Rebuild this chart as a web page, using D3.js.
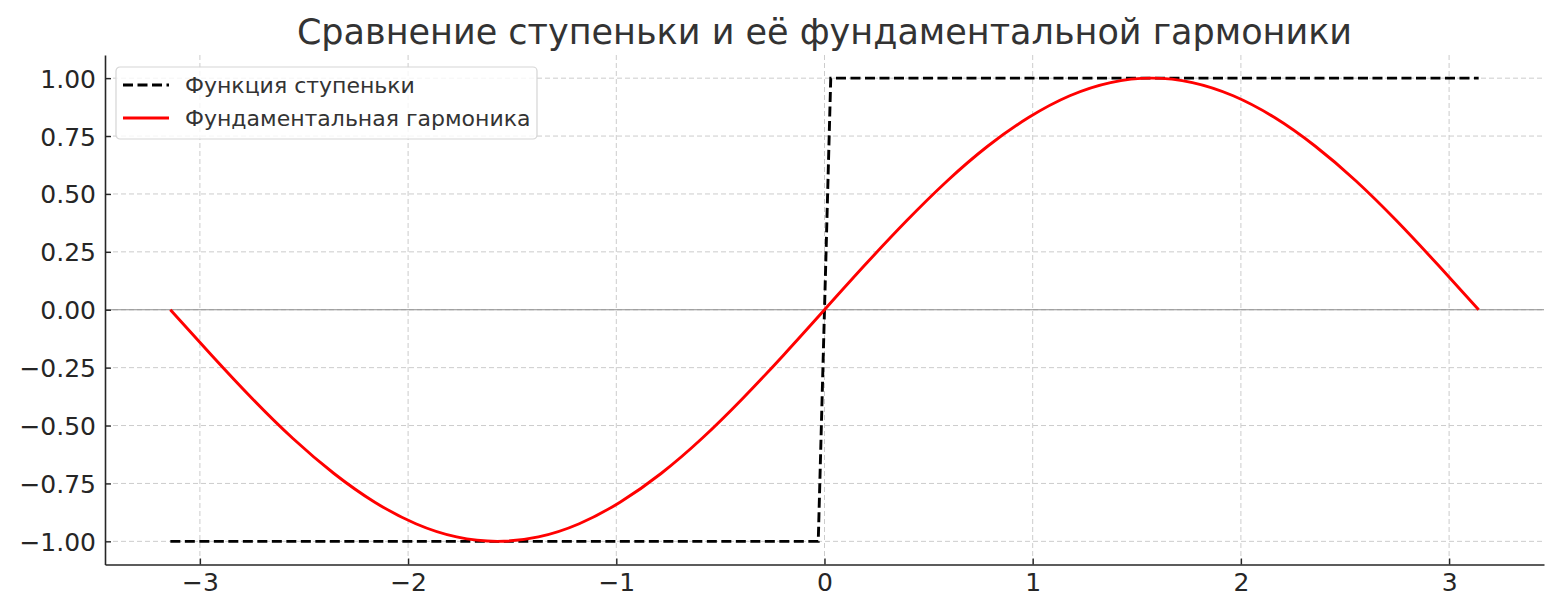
<!DOCTYPE html>
<html>
<head>
<meta charset="utf-8">
<script src="https://cdn.jsdelivr.net/npm/d3@7"></script>
<style>
  body { margin: 0; background: #fff; }
  svg { font-family: "DejaVu Sans", sans-serif; }
</style>
</head>
<body>
<svg id="chart" width="1560" height="614"></svg>
<script>
const title = "Сравнение ступеньки и её фундаментальной гармоники";
const seriesNames = ["Функция ступеньки", "Фундаментальная гармоника"];

// step function
const stepX = [-3.142, -0.03, 0.03, 3.142];
const stepY = [-1, -1, 1, 1];

// fundamental harmonic, sampled off the curve
const harmX = [-3.142, -2.945, -2.749, -2.553, -2.356, -2.160, -1.963, -1.767, -1.571, -1.374, -1.178, -0.982, -0.785, -0.589, -0.393, -0.196,
  0, 0.196, 0.393, 0.589, 0.785, 0.982, 1.178, 1.374, 1.571, 1.767, 1.963, 2.160, 2.356, 2.553, 2.749, 2.945, 3.142];
const harmY = [0, -0.195, -0.383, -0.556, -0.707, -0.831, -0.924, -0.981, -1, -0.981, -0.924, -0.831, -0.707, -0.556, -0.383, -0.195,
  0, 0.195, 0.383, 0.556, 0.707, 0.831, 0.924, 0.981, 1, 0.981, 0.924, 0.831, 0.707, 0.556, 0.383, 0.195, 0];

const xTicks = [-3, -2, -1, 0, 1, 2, 3];
const yTicks = [-1, -0.75, -0.5, -0.25, 0, 0.25, 0.5, 0.75, 1];

const margin = { top: 55, right: 16, bottom: 49.5, left: 105 };
const width = 1560, height = 614;

const svg = d3.select("#chart");

const x = d3.scaleLinear().domain([-3.4558, 3.4558]).range([margin.left, width - margin.right]);
const y = d3.scaleLinear().domain([-1.1, 1.1]).range([height - margin.bottom, margin.top]);

const textColor = "#262626";
const fmtMinus = s => s.replace("-", "\u2212");

// grid
const grid = svg.append("g").attr("stroke", "#cccccc").attr("stroke-width", 1).attr("stroke-dasharray", "5,3");
grid.selectAll(".vx").data(xTicks).enter().append("line")
  .attr("x1", d => x(d)).attr("x2", d => x(d))
  .attr("y1", margin.top).attr("y2", height - margin.bottom);
grid.selectAll(".hy").data(yTicks).enter().append("line")
  .attr("x1", margin.left).attr("x2", width - margin.right)
  .attr("y1", d => y(d)).attr("y2", d => y(d));

// zero line
svg.append("line")
  .attr("x1", margin.left).attr("x2", width - margin.right)
  .attr("y1", y(0)).attr("y2", y(0))
  .attr("stroke", "#8c8c8c").attr("stroke-width", 1.2);

// axes
const xAxis = svg.append("g")
  .attr("transform", "translate(0," + (height - margin.bottom) + ")")
  .call(d3.axisBottom(x).tickValues(xTicks).tickSizeInner(-6).tickSizeOuter(0).tickPadding(9)
    .tickFormat(d => fmtMinus(d3.format("d")(d))));
const yAxis = svg.append("g")
  .attr("transform", "translate(" + margin.left + ",0)")
  .call(d3.axisLeft(y).tickValues(yTicks).tickSizeInner(-6).tickSizeOuter(0).tickPadding(9)
    .tickFormat(d => fmtMinus(d3.format(".2f")(d))));

[xAxis, yAxis].forEach(a => {
  a.select(".domain").attr("stroke", "#262626").attr("stroke-width", 1.6);
  a.selectAll(".tick line").attr("stroke", "#262626").attr("stroke-width", 1.4);
  a.selectAll(".tick text").attr("fill", textColor).attr("font-size", 25)
    .attr("font-family", "DejaVu Sans, sans-serif");
});
yAxis.selectAll(".tick text").attr("dy", "0.36em");

// lines
const line = d3.line().x(d => x(d[0])).y(d => y(d[1]));

svg.append("path")
  .datum(stepX.map((v, i) => [v, stepY[i]]))
  .attr("fill", "none").attr("stroke", "#000").attr("stroke-width", 2.9)
  .attr("stroke-dasharray", "10,4.5")
  .attr("d", line);

svg.append("path")
  .datum(harmX.map((v, i) => [v, harmY[i]]))
  .attr("fill", "none").attr("stroke", "#ff0000").attr("stroke-width", 2.9)
  .attr("d", line.curve(d3.curveNatural));

// title
svg.append("text")
  .attr("x", (margin.left + width - margin.right) / 2).attr("y", 44)
  .attr("text-anchor", "middle").attr("font-size", 35).attr("fill", "#333333")
  .text(title);

// legend
const lg = svg.append("g").attr("transform", "translate(116,67)");
lg.append("rect")
  .attr("width", 421).attr("height", 72).attr("rx", 4)
  .attr("fill", "#fff").attr("fill-opacity", 0.8)
  .attr("stroke", "#d5d5d5").attr("stroke-width", 1.2);

const legendItems = [
  { name: seriesNames[0], color: "#000", dash: "10,4.5" },
  { name: seriesNames[1], color: "#ff0000", dash: null }
];
const row = lg.selectAll(".row").data(legendItems).enter().append("g")
  .attr("transform", (d, i) => "translate(0," + (18 + i * 33) + ")");
row.append("line")
  .attr("x1", 7).attr("x2", 53).attr("y1", 0).attr("y2", 0)
  .attr("stroke", d => d.color).attr("stroke-width", 2.9)
  .attr("stroke-dasharray", d => d.dash);
row.append("text")
  .attr("x", 69).attr("y", 0).attr("dy", "0.35em")
  .attr("font-size", 22).attr("fill", "#333333")
  .text(d => d.name);
</script>
</body>
</html>
